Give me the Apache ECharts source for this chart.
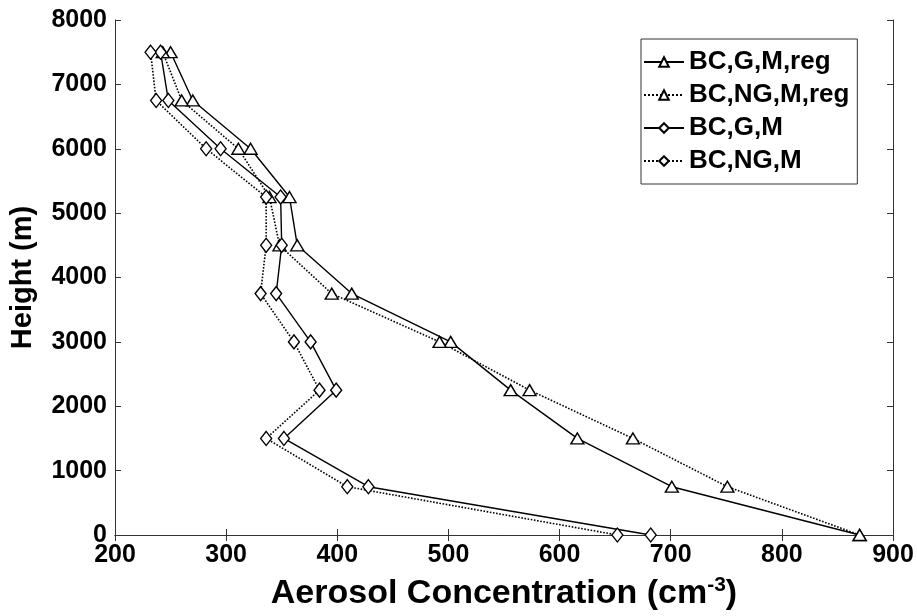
<!DOCTYPE html>
<html>
<head>
<meta charset="utf-8">
<script src="https://cdn.jsdelivr.net/npm/echarts@6/dist/echarts.min.js"></script>
<style>
  html, body { margin: 0; padding: 0; background: #fff; }
  #chart { width: 917px; height: 616px; }
</style>
</head>
<body>
<div id="chart"></div>
<script>
// Vertical profiles of aerosol concentration
const heights = [0, 750, 1500, 2250, 3000, 3750, 4500, 5250, 6000, 6750, 7500];
const bcGMReg  = [870, 701, 616, 556, 502, 413, 364, 357, 322, 270, 250];
const bcNGMReg = [870, 751, 666, 573, 492, 395, 348, 339, 311, 260, 243];
const bcGM     = [682, 428, 352, 399, 376, 345, 350, 349, 295, 248, 241];
const bcNGM    = [652, 409, 336, 384, 361, 331, 336, 336, 282, 237, 232];
const seriesNames = ['BC,G,M,reg', 'BC,NG,M,reg', 'BC,G,M', 'BC,NG,M'];
const xTicks = [200, 300, 400, 500, 600, 700, 800, 900];
const yTicks = [0, 1000, 2000, 3000, 4000, 5000, 6000, 7000, 8000];

const FONT = '"Liberation Sans", Arial, Helvetica, sans-serif';

function pairs(xs) { return xs.map((v, i) => [v, heights[i]]); }

function profile(name, values, dashed, symbol, size) {
  return {
    name: name,
    type: 'line',
    data: pairs(values),
    symbol: symbol,
    symbolSize: size,
    showAllSymbol: true,
    lineStyle: { color: '#000', width: dashed ? 1.6 : 1.4, type: dashed ? 'dotted' : 'solid' },
    itemStyle: { color: '#fff', borderColor: '#000', borderWidth: 1.4 },
    emphasis: { disabled: true },
    animation: false,
    z: 3
  };
}

const axisLine = { show: true, lineStyle: { color: '#333', width: 1 } };
const tick = { show: true, inside: true, length: 6, lineStyle: { color: '#333', width: 1 } };
const tickLabel = { color: '#000', fontFamily: FONT, fontWeight: 'bold', fontSize: 25 };

const chart = echarts.init(document.getElementById('chart'));
chart.setOption({
  backgroundColor: '#fff',
  animation: false,
  grid: { left: 113, right: 24, top: 20, bottom: 79, containLabel: false },
  legend: {
    orient: 'vertical',
    left: 641,
    top: 39,
    data: seriesNames,
    itemWidth: 40,
    itemHeight: 12,
    itemGap: 7,
    padding: [10, 8, 10, 2],
    borderColor: '#333',
    borderWidth: 1,
    backgroundColor: '#fff',
    textStyle: { color: '#000', fontFamily: FONT, fontWeight: 'bold', fontSize: 26 }
  },
  xAxis: [
    {
      type: 'value', min: 200, max: 900, interval: 100,
      position: 'bottom',
      name: '{a|Aerosol Concentration (cm}{b|-3}{a|)}',
      nameLocation: 'middle',
      nameGap: 40,
      nameTextStyle: {
        rich: {
          a: { fontFamily: FONT, fontWeight: 'bold', fontSize: 34, color: '#000' },
          b: { fontFamily: FONT, fontWeight: 'bold', fontSize: 21, color: '#000', verticalAlign: 'bottom', padding: [0, 0, 17, 0] }
        }
      },
      axisLine: axisLine, axisTick: tick,
      axisLabel: Object.assign({ margin: 8, formatter: v => xTicks.includes(v) ? String(v) : '' }, tickLabel),
      splitLine: { show: false }
    },
    {
      type: 'value', min: 200, max: 900, interval: 100,
      position: 'top',
      axisLine: axisLine, axisTick: tick,
      axisLabel: { show: false },
      splitLine: { show: false }
    }
  ],
  yAxis: [
    {
      type: 'value', min: 0, max: 8000, interval: 1000,
      position: 'left',
      name: 'Height (m)',
      nameLocation: 'middle',
      nameGap: 78,
      nameTextStyle: { fontFamily: FONT, fontWeight: 'bold', fontSize: 29, color: '#000' },
      axisLine: axisLine, axisTick: tick,
      axisLabel: Object.assign({ margin: 8, formatter: v => yTicks.includes(v) ? String(v) : '' }, tickLabel),
      splitLine: { show: false }
    },
    {
      type: 'value', min: 0, max: 8000, interval: 1000,
      position: 'right',
      axisLine: axisLine, axisTick: tick,
      axisLabel: { show: false },
      splitLine: { show: false }
    }
  ],
  series: [
    profile(seriesNames[0], bcGMReg, false, 'triangle', [13, 11]),
    profile(seriesNames[1], bcNGMReg, true, 'triangle', [13, 11]),
    profile(seriesNames[2], bcGM, false, 'diamond', [11, 14]),
    profile(seriesNames[3], bcNGM, true, 'diamond', [11, 14])
  ]
});
</script>
</body>
</html>
